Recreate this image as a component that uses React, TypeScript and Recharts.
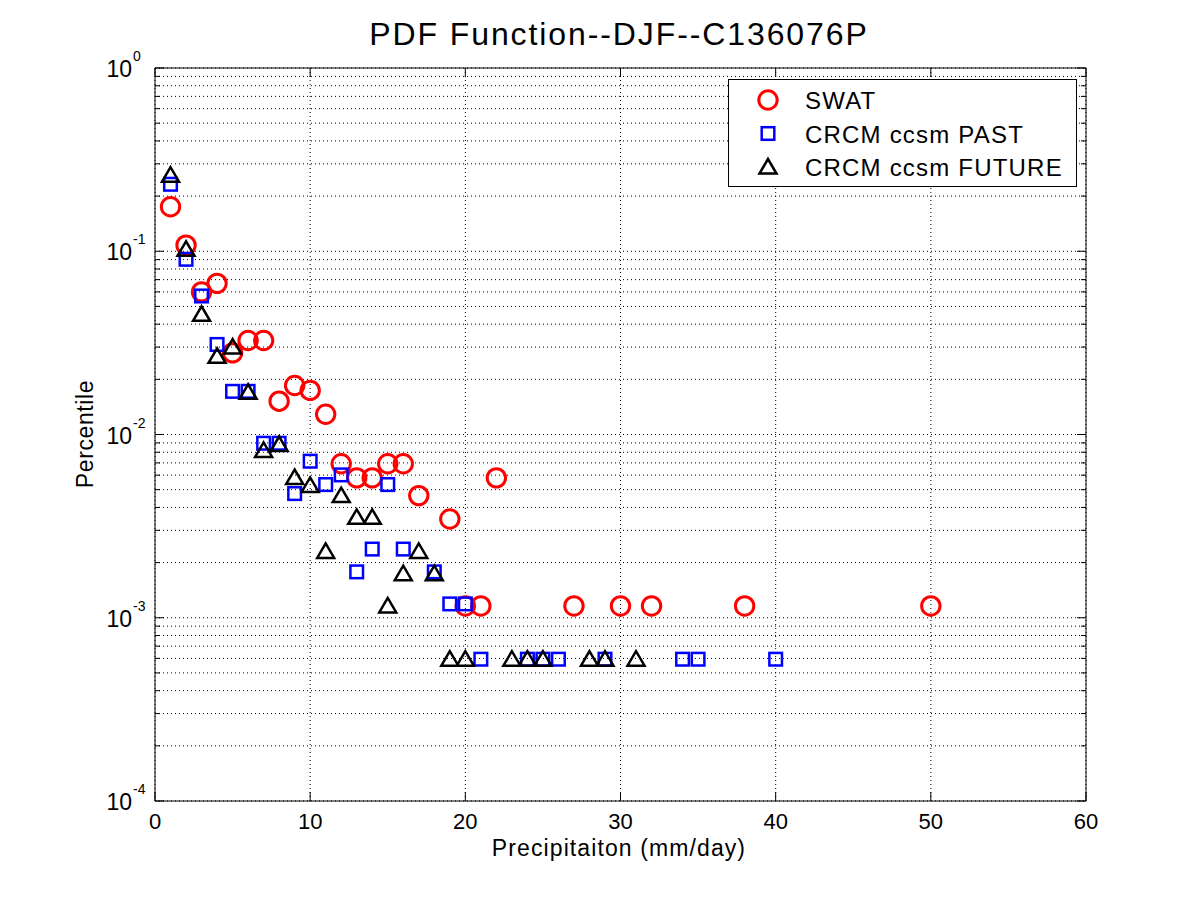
import React from 'react'
import { ScatterChart, Scatter, XAxis, YAxis, CartesianGrid, ReferenceLine } from 'recharts'

// plot box in page pixels
const LEFT = 155
const RIGHT = 1086
const TOP = 68
const BOTTOM = 801
const FONT = '"Liberation Sans", Arial, sans-serif'

const swatX = [1, 2, 3, 4, 5, 6, 7, 8, 9, 10, 11, 12, 13, 14, 15, 16, 17, 19, 20, 21, 22, 27, 30, 32, 38, 50]
const swatY = [
  0.175, 0.108, 0.06, 0.0668, 0.0279, 0.0326, 0.0326, 0.0152, 0.0185, 0.0174, 0.0129, 0.00692, 0.0058,
  0.0058, 0.00692, 0.00692, 0.00464, 0.00346, 0.00116, 0.00116, 0.0058, 0.00116, 0.00116, 0.00116, 0.00116,
  0.00116,
]

const pastX = [1, 2, 3, 4, 5, 6, 7, 8, 9, 10, 11, 12, 13, 14, 15, 16, 18, 19, 20, 21, 24, 25, 26, 29, 34, 35, 40]
const pastY = [
  0.232, 0.0904, 0.057, 0.031, 0.0172, 0.0172, 0.00896, 0.00896, 0.00476, 0.00715, 0.00533, 0.00602, 0.00178,
  0.00237, 0.00533, 0.00237, 0.00178, 0.00119, 0.00119, 0.000594, 0.000594, 0.000594, 0.000594, 0.000594,
  0.000594, 0.000594, 0.000594,
]

const futureX = [1, 2, 3, 4, 5, 6, 7, 8, 9, 10, 11, 12, 13, 14, 15, 16, 17, 18, 19, 20, 23, 24, 25, 28, 29, 31]
const futureY = [
  0.26, 0.1025, 0.0453, 0.0267, 0.03, 0.017, 0.00818, 0.00882, 0.00582, 0.00527, 0.0023, 0.00464, 0.00353,
  0.00353, 0.00116, 0.00174, 0.0023, 0.00174, 0.000594, 0.000594, 0.000594, 0.000594, 0.000594, 0.000594,
  0.000594, 0.000594,
]

const xTicks = [0, 10, 20, 30, 40, 50, 60]
const yMajor = [1e-4, 1e-3, 1e-2, 1e-1, 1]
const yMinorSteps = [2, 3, 4, 5, 6, 7, 8, 9]
const yTicks = [...yMajor, ...yMajor.slice(0, -1).flatMap((d) => yMinorSteps.map((m) => d * m))].sort((a, b) => a - b)

const toPoints = (xs: number[], ys: number[]) => xs.map((x, i) => ({ x, y: ys[i] }))
const swatData = toPoints(swatX, swatY)
const pastData = toPoints(pastX, pastY)
const futureData = toPoints(futureX, futureY)

const CircleMark = ({ cx, cy }: any) => (
  <circle cx={cx} cy={cy} r={9.2} fill="none" stroke="#ff0000" strokeWidth={3} />
)
const SquareMark = ({ cx, cy }: any) => (
  <rect x={cx - 6.3} y={cy - 6.3} width={12.6} height={12.6} fill="none" stroke="#0000ff" strokeWidth={2.5} />
)
const TriangleMark = ({ cx, cy }: any) => (
  <polygon
    points={`${cx},${cy - 8} ${cx - 8.5},${cy + 6.5} ${cx + 8.5},${cy + 6.5}`}
    fill="none"
    stroke="#000"
    strokeWidth={2.5}
  />
)

const isMajor = (v: number) => Math.abs(Math.log10(v) - Math.round(Math.log10(v))) < 1e-6

const YTick = ({ x, y, payload }: any) => {
  const v = payload.value
  const major = isMajor(v)
  const len = major ? 9 : 5
  return (
    <g>
      <line x1={LEFT} y1={y} x2={LEFT + len} y2={y} stroke="#000" />
      <line x1={RIGHT - len} y1={y} x2={RIGHT} y2={y} stroke="#000" />
      {major && (
        <g fontFamily={FONT} fill="#000">
          <text x={x - 23} y={y + 9} textAnchor="end" fontSize={23}>
            10
          </text>
          <text x={x - 22} y={y - 7} fontSize={14}>
            {Math.round(Math.log10(v))}
          </text>
        </g>
      )}
    </g>
  )
}

const XTick = ({ x, y, payload }: any) => (
  <g>
    <line x1={x} y1={BOTTOM} x2={x} y2={BOTTOM - 9} stroke="#000" />
    <line x1={x} y1={TOP} x2={x} y2={TOP + 9} stroke="#000" />
    <text x={x} y={y + 28} textAnchor="middle" fontSize={22} fontFamily={FONT} fill="#000">
      {payload.value}
    </text>
  </g>
)

const legendItems = [
  { label: 'SWAT', Mark: CircleMark },
  { label: 'CRCM ccsm PAST', Mark: SquareMark },
  { label: 'CRCM ccsm FUTURE', Mark: TriangleMark },
]

export default function App() {
  return (
    <div style={{ position: 'absolute', left: 0, top: 0, width: 1200, height: 900, background: '#fff' }}>
      <ScatterChart
        width={1200}
        height={900}
        margin={{ top: TOP, right: 1200 - RIGHT, bottom: 900 - BOTTOM - 40, left: LEFT - 60 }}
      >
        <CartesianGrid stroke="#000" strokeDasharray="1 3" strokeWidth={1} />
        <XAxis
          type="number"
          dataKey="x"
          domain={[0, 60]}
          ticks={xTicks}
          height={40}
          tickSize={0}
          tickMargin={0}
          tick={<XTick />}
          axisLine={{ stroke: '#000' }}
          tickLine={false}
          interval={0}
        />
        <YAxis
          type="number"
          dataKey="y"
          scale="log"
          domain={[1e-4, 1]}
          allowDataOverflow
          ticks={yTicks}
          width={60}
          tickSize={0}
          tickMargin={0}
          tick={<YTick />}
          axisLine={{ stroke: '#000' }}
          tickLine={false}
          interval={0}
        />
        <ReferenceLine y={1} stroke="#000" strokeWidth={1} />
        <ReferenceLine x={60} stroke="#000" strokeWidth={1} />
        <Scatter name="SWAT" data={swatData} shape={<CircleMark />} isAnimationActive={false} />
        <Scatter name="CRCM ccsm PAST" data={pastData} shape={<SquareMark />} isAnimationActive={false} />
        <Scatter name="CRCM ccsm FUTURE" data={futureData} shape={<TriangleMark />} isAnimationActive={false} />
      </ScatterChart>
      <svg
        style={{ position: 'absolute', left: 0, top: 0, pointerEvents: 'none' }}
        width={1200}
        height={900}
        fontFamily={FONT}
        fill="#000"
      >
        <text x={619} y={45} textAnchor="middle" fontSize={32} letterSpacing={1.9}>
          PDF Function--DJF--C136076P
        </text>
        <text x={619} y={856} textAnchor="middle" fontSize={23} letterSpacing={1.1}>
          Precipitaiton (mm/day)
        </text>
        <text x={93} y={434} textAnchor="middle" fontSize={23} letterSpacing={0.6} transform="rotate(-90 93 434)">
          Percentile
        </text>
        <g transform="translate(728 79)">
          <rect x={0.5} y={0.5} width={348} height={107} fill="#fff" stroke="#000" />
          {legendItems.map(({ label, Mark }, i) => (
            <g key={label}>
              <Mark cx={40} cy={21 + i * 33.5} />
              <text x={77} y={21 + i * 33.5 + 9} fontSize={24} letterSpacing={1.2}>
                {label}
              </text>
            </g>
          ))}
        </g>
      </svg>
    </div>
  )
}
